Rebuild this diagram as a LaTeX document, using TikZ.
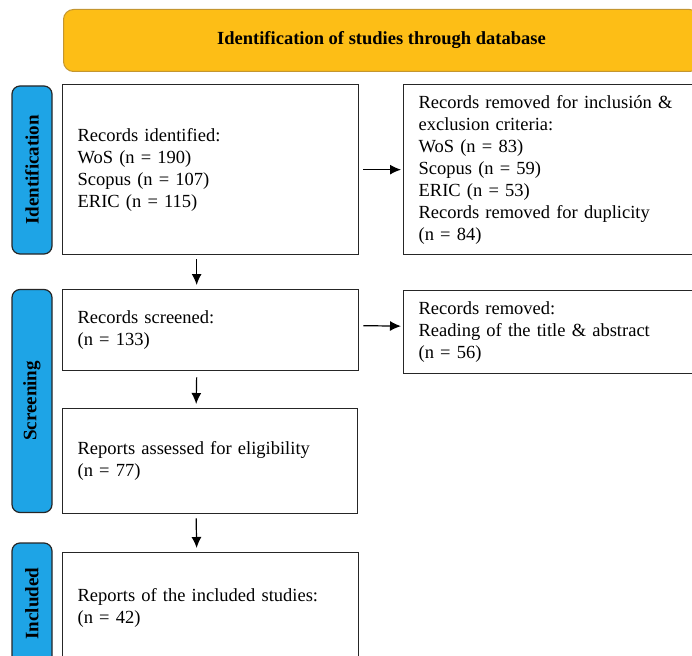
\documentclass[tikz,border=0pt]{standalone}
\usepackage{fontspec}
\setmainfont{Liberation Serif}
\usetikzlibrary{arrows.meta}
\definecolor{headgold}{RGB}{253,190,22}
\definecolor{headedge}{RGB}{196,150,48}
\definecolor{phaseblue}{RGB}{30,164,230}

\begin{document}
\begin{tikzpicture}[x=1pt,y=-1pt,font=\fontsize{18.5}{22}\selectfont,
  recbox/.style={draw=black!85,line width=1.3pt,fill=white,anchor=north west,inner xsep=15pt,inner ysep=0pt,align=left},
  phase/.style={draw=black!85,line width=1.2pt,fill=phaseblue,rounded corners=8pt,rotate=90,minimum height=40pt,inner sep=0pt,font=\fontsize{19}{22}\selectfont\bfseries},
  flow/.style={line width=1.2pt,-{Latex[length=11pt,width=10pt]}}]
\clip (0,0) rectangle (692,655);
\node[draw=headedge,line width=1pt,fill=headgold,rounded corners=10pt,minimum width=636pt,minimum height=62pt,anchor=north west,font=\fontsize{18.5}{22}\selectfont\bfseries] (head) at (63,9) {Identification of studies through database};
% phases
\node[phase,minimum width=168pt] (pident) at (32,170) {Identification};
\node[phase,minimum width=223pt] (pscreen) at (32,401) {Screening};
\node[phase,minimum width=121pt] (pincl) at (32,603.5) {Included};
% boxes
\node[recbox,text width=266pt,minimum height=170pt] (ident) at (62,84) {Records identified:\\WoS (n = 190)\\Scopus (n = 107)\\ERIC (n = 115)};
\node[recbox,text width=267pt,minimum height=170pt] (removed) at (403,84) {Records removed for inclusión \&\\exclusion criteria:\\WoS (n = 83)\\Scopus (n = 59)\\ERIC (n = 53)\\Records removed for duplicity\\(n = 84)};
\node[recbox,text width=266pt,minimum height=81pt] (screen) at (62,289) {Records screened:\\(n = 133)};
\node[recbox,text width=267pt,minimum height=83pt] (excl) at (403,290) {Records removed:\\Reading of the title \& abstract\\(n = 56)};
\node[recbox,text width=265pt,minimum height=105pt] (elig) at (62,408) {Reports assessed for eligibility\\(n = 77)};
\node[recbox,text width=266pt,minimum height=111pt] (incl) at (62,552) {Reports of the included studies:\\(n = 42)};
% arrows
\draw[flow] ([xshift=4pt]ident.east) -- ([xshift=-2pt]removed.west);
\draw[flow] ([xshift=4pt,yshift=4.5pt]screen.east) -- ([xshift=-2pt,yshift=6pt]excl.west);
\draw[flow] ([xshift=-14pt,yshift=-4pt]ident.south) -- ([xshift=-14pt,yshift=4pt]screen.north);
\draw[flow] ([xshift=-14pt,yshift=-6pt]screen.south) -- ([xshift=-14pt,yshift=4pt]elig.north);
\draw[flow] ([xshift=-14pt,yshift=-4pt]elig.south) -- ([xshift=-14pt,yshift=4pt]incl.north);
\end{tikzpicture}
\end{document}
